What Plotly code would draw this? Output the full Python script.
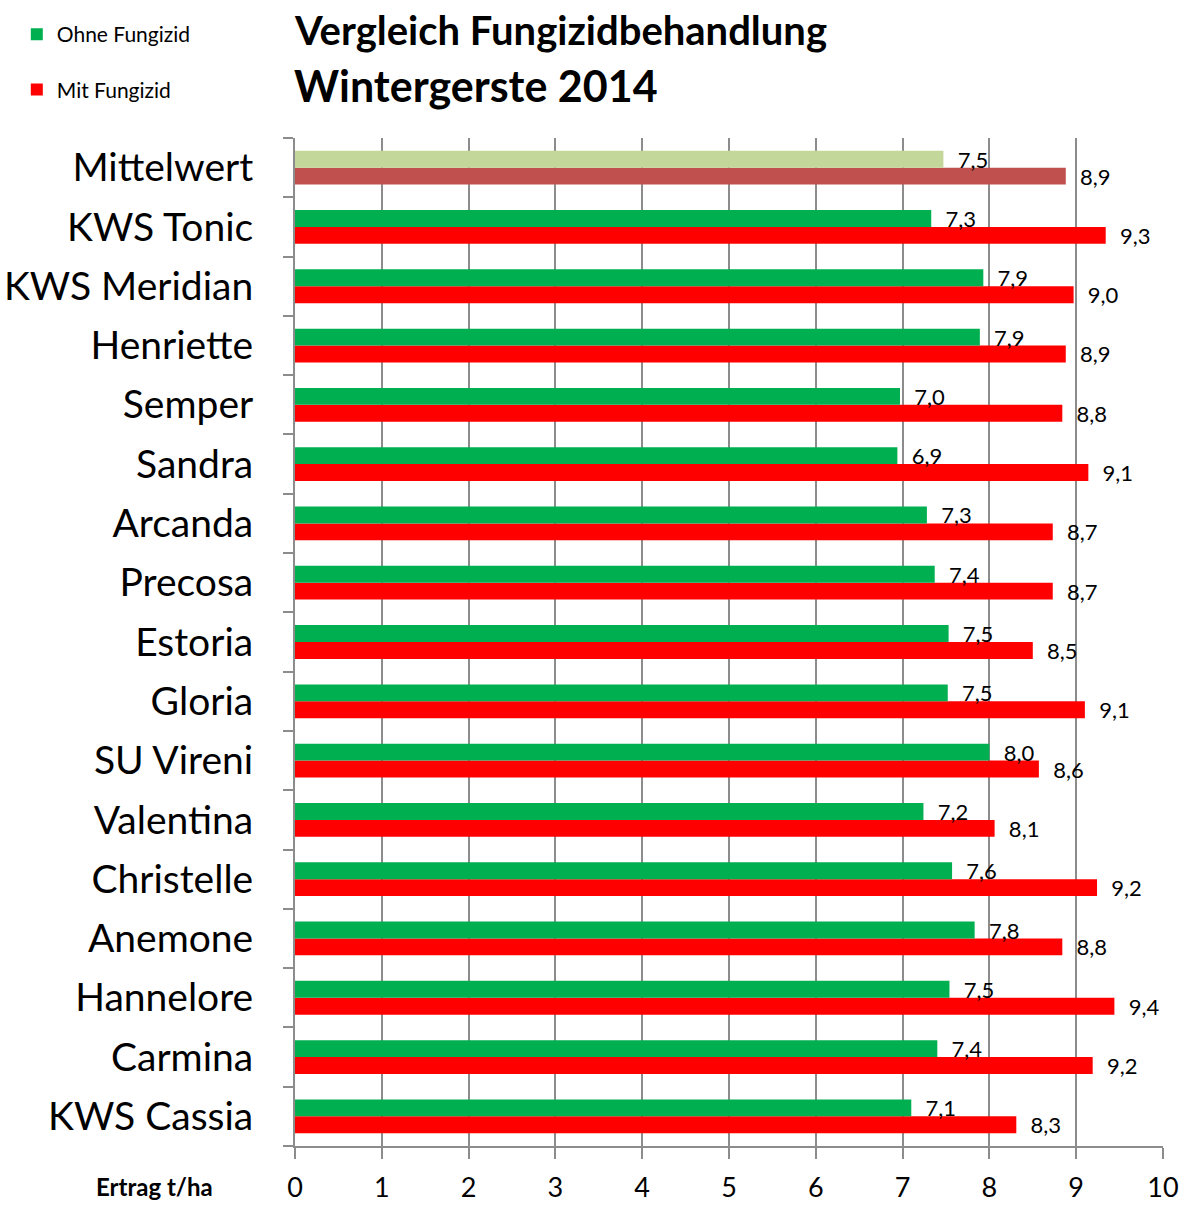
import plotly.graph_objects as go

# Data (top-to-bottom as in the chart)
sorten = ["Mittelwert", "KWS Tonic", "KWS Meridian", "Henriette", "Semper", "Sandra",
          "Arcanda", "Precosa", "Estoria", "Gloria", "SU Vireni", "Valentina",
          "Christelle", "Anemone", "Hannelore", "Carmina", "KWS Cassia"]
ohne_fungizid = [7.47, 7.33, 7.93, 7.89, 6.97, 6.94, 7.28, 7.37, 7.53, 7.52, 8.0, 7.24,
                 7.57, 7.83, 7.54, 7.40, 7.10]
mit_fungizid = [8.88, 9.34, 8.97, 8.88, 8.84, 9.14, 8.73, 8.73, 8.50, 9.10, 8.57, 8.06,
                9.24, 8.84, 9.44, 9.19, 8.31]
x_ticks = [0, 1, 2, 3, 4, 5, 6, 7, 8, 9, 10]

GREEN, RED = "#00B050", "#FF0000"
MEAN_GREEN, MEAN_RED = "#C4D79B", "#C0504D"
FONT = "Lato"

# plot bottom-to-top so the first point (legend swatch) is a normal variety
cats = sorten[::-1]
ohne = ohne_fungizid[::-1]
mit = mit_fungizid[::-1]

def fmt(v):
    return "\u00a0\u00a0" + f"{v:.1f}".replace(".", ",")

fig = go.Figure()
fig.add_trace(go.Bar(
    y=cats, x=mit, orientation="h", name="Mit Fungizid", legendgroup="mit", legendrank=2,
    marker=dict(color=[MEAN_RED if c == "Mittelwert" else RED for c in cats], line=dict(width=0)),
    text=[fmt(v) for v in mit], textposition="outside", constraintext="none",
    textfont=dict(family=FONT, size=22, color="black"), cliponaxis=False,
))
fig.add_trace(go.Bar(
    y=cats, x=ohne, orientation="h", name="Ohne Fungizid", legendgroup="ohne", legendrank=1,
    marker=dict(color=[MEAN_GREEN if c == "Mittelwert" else GREEN for c in cats], line=dict(width=0)),
    text=[fmt(v) for v in ohne], textposition="outside", constraintext="none",
    textfont=dict(family=FONT, size=22, color="black"), cliponaxis=False,
))

fig.update_layout(
    width=1184, height=1205,
    margin=dict(l=295, r=21, t=138, b=59, autoexpand=False),
    paper_bgcolor="white", plot_bgcolor="white",
    barmode="group", bargap=0.43, bargroupgap=0,
    font=dict(family=FONT, color="black"),
    legend=dict(x=-0.3205, y=1.123, xanchor="left", yanchor="top",
                traceorder="grouped", tracegroupgap=25,
                font=dict(family=FONT, size=21), itemwidth=30),
    xaxis=dict(range=[0, 10], tickvals=x_ticks, showgrid=True, gridcolor="#8c8c8c", gridwidth=2,
               showline=True, linecolor="#8c8c8c", linewidth=2, automargin=False,
               ticks="outside", ticklen=11, tickcolor="#8c8c8c", tickwidth=2,
               tickfont=dict(family=FONT, size=27), ticklabelstandoff=6, zeroline=False),
    yaxis=dict(categoryorder="array", categoryarray=cats, showline=True, linecolor="#8c8c8c",
               linewidth=2, ticks="outside", tickson="boundaries", ticklen=10, automargin=False,
               tickcolor="#8c8c8c", tickwidth=2, showgrid=False,
               tickfont=dict(family=FONT, size=39), ticklabelstandoff=32),
    annotations=[
        dict(text="<b>Vergleich Fungizidbehandlung</b>", x=0, y=1.107, xref="paper", yref="paper",
             xanchor="left", yanchor="middle", showarrow=False, xshift=-3,
             font=dict(family=FONT, size=40, color="black")),
        dict(text="<b>Wintergerste 2014</b>", x=0, y=1.052, xref="paper", yref="paper",
             xanchor="left", yanchor="middle", showarrow=False, xshift=-3,
             font=dict(family=FONT, size=43, color="black")),
        dict(text="<b>Ertrag t/ha</b>", x=-0.162, y=-0.0397, xref="paper", yref="paper",
             xanchor="center", yanchor="middle", showarrow=False,
             font=dict(family=FONT, size=24, color="black")),
    ],
)

fig.write_html("out.html", config={"displayModeBar": False},
               post_script="document.body.style.margin='0';")
